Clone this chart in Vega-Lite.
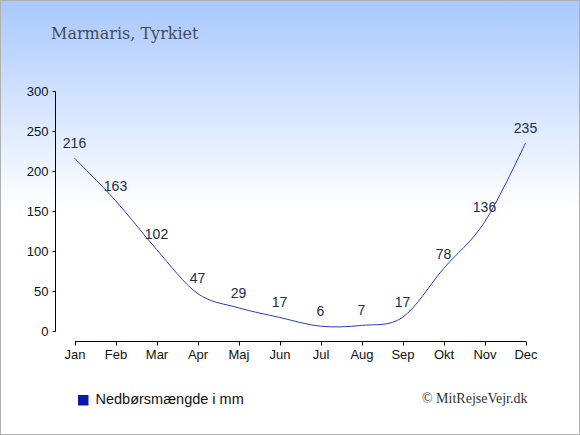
{
  "$schema": "https://vega.github.io/schema/vega-lite/v6.json",
  "description": "Monthly precipitation in Marmaris, Turkey (mm).",
  "width": 580,
  "height": 435,
  "autosize": {"type": "none"},
  "padding": 0,
  "background": "#ffffff",
  "title": {
    "text": "Marmaris, Tyrkiet",
    "anchor": "start",
    "frame": "group",
    "orient": "top",
    "offset": -42,
    "dx": 51,
    "font": "DejaVu Serif",
    "fontSize": 16,
    "fontWeight": "normal",
    "color": "#4a4a55"
  },
  "data": {
    "values": [
      {"MONTH": "Jan", "RAIN": 216, "SERIES": "Nedbørsmængde i mm"},
      {"MONTH": "Feb", "RAIN": 163, "SERIES": "Nedbørsmængde i mm"},
      {"MONTH": "Mar", "RAIN": 102, "SERIES": "Nedbørsmængde i mm"},
      {"MONTH": "Apr", "RAIN": 47, "SERIES": "Nedbørsmængde i mm"},
      {"MONTH": "Maj", "RAIN": 29, "SERIES": "Nedbørsmængde i mm"},
      {"MONTH": "Jun", "RAIN": 17, "SERIES": "Nedbørsmængde i mm"},
      {"MONTH": "Jul", "RAIN": 6, "SERIES": "Nedbørsmængde i mm"},
      {"MONTH": "Aug", "RAIN": 7, "SERIES": "Nedbørsmængde i mm"},
      {"MONTH": "Sep", "RAIN": 17, "SERIES": "Nedbørsmængde i mm"},
      {"MONTH": "Okt", "RAIN": 78, "SERIES": "Nedbørsmængde i mm"},
      {"MONTH": "Nov", "RAIN": 136, "SERIES": "Nedbørsmængde i mm"},
      {"MONTH": "Dec", "RAIN": 235, "SERIES": "Nedbørsmængde i mm"}
    ]
  },
  "encoding": {
    "x": {
      "field": "MONTH",
      "type": "ordinal",
      "sort": null,
      "scale": {"type": "point", "padding": 0, "range": [74.5, 525.5]},
      "axis": {
        "title": "© MitRejseVejr.dk",
        "titleFont": "Liberation Serif",
        "titleFontSize": 14,
        "titleFontWeight": "normal",
        "titleColor": "#333333",
        "titleX": 527,
        "titleY": 57,
        "titleAlign": "right",
        "titleBaseline": "middle",
        "titleAnchor": null,
        "offset": -94,
        "labelAngle": 0,
        "labelPadding": 3,
        "tickSize": 4,
        "domainColor": "#000000",
        "tickColor": "#000000"
      }
    },
    "y": {
      "field": "RAIN",
      "type": "quantitative",
      "scale": {"domain": [0, 300], "range": [331, 91], "nice": false},
      "axis": {
        "title": null,
        "values": [0, 50, 100, 150, 200, 250, 300],
        "offset": -55,
        "grid": false,
        "tickSize": 3,
        "labelPadding": 4,
        "domainColor": "#000000",
        "tickColor": "#000000"
      }
    }
  },
  "layer": [
    {
      "mark": {"type": "line", "interpolate": "cardinal", "strokeWidth": 1},
      "encoding": {
        "color": {
          "field": "SERIES",
          "type": "nominal",
          "scale": {"range": ["#2a3cc4"]},
          "legend": {
            "title": null,
            "orient": "none",
            "legendX": 76,
            "legendY": 393,
            "symbolType": "square",
            "symbolSize": 110,
            "symbolFillColor": "#0a1aa8",
            "symbolStrokeColor": "#0a1aa8",
            "symbolStrokeWidth": 0,
            "labelFont": "Liberation Sans",
            "labelFontSize": 14.5,
            "labelColor": "#111111",
            "labelOffset": 5
          }
        }
      }
    },
    {
      "mark": {
        "type": "text",
        "dy": -14,
        "baseline": "middle",
        "font": "Liberation Sans",
        "fontSize": 14,
        "color": "#1c2c50"
      },
      "encoding": {
        "text": {"field": "RAIN", "type": "quantitative"}
      }
    }
  ],
  "config": {
    "view": {
      "fill": {
        "gradient": "linear",
        "x1": 0, "y1": 0, "x2": 0, "y2": 1,
        "stops": [
          {"offset": 0, "color": "#a8c8ff"},
          {"offset": 0.48, "color": "#ffffff"},
          {"offset": 1, "color": "#ffffff"}
        ]
      },
      "stroke": "#b0b0b0",
      "strokeWidth": 2
    },
    "axis": {
      "labelFont": "Liberation Sans",
      "labelFontSize": 13,
      "labelColor": "#111111"
    }
  }
}
